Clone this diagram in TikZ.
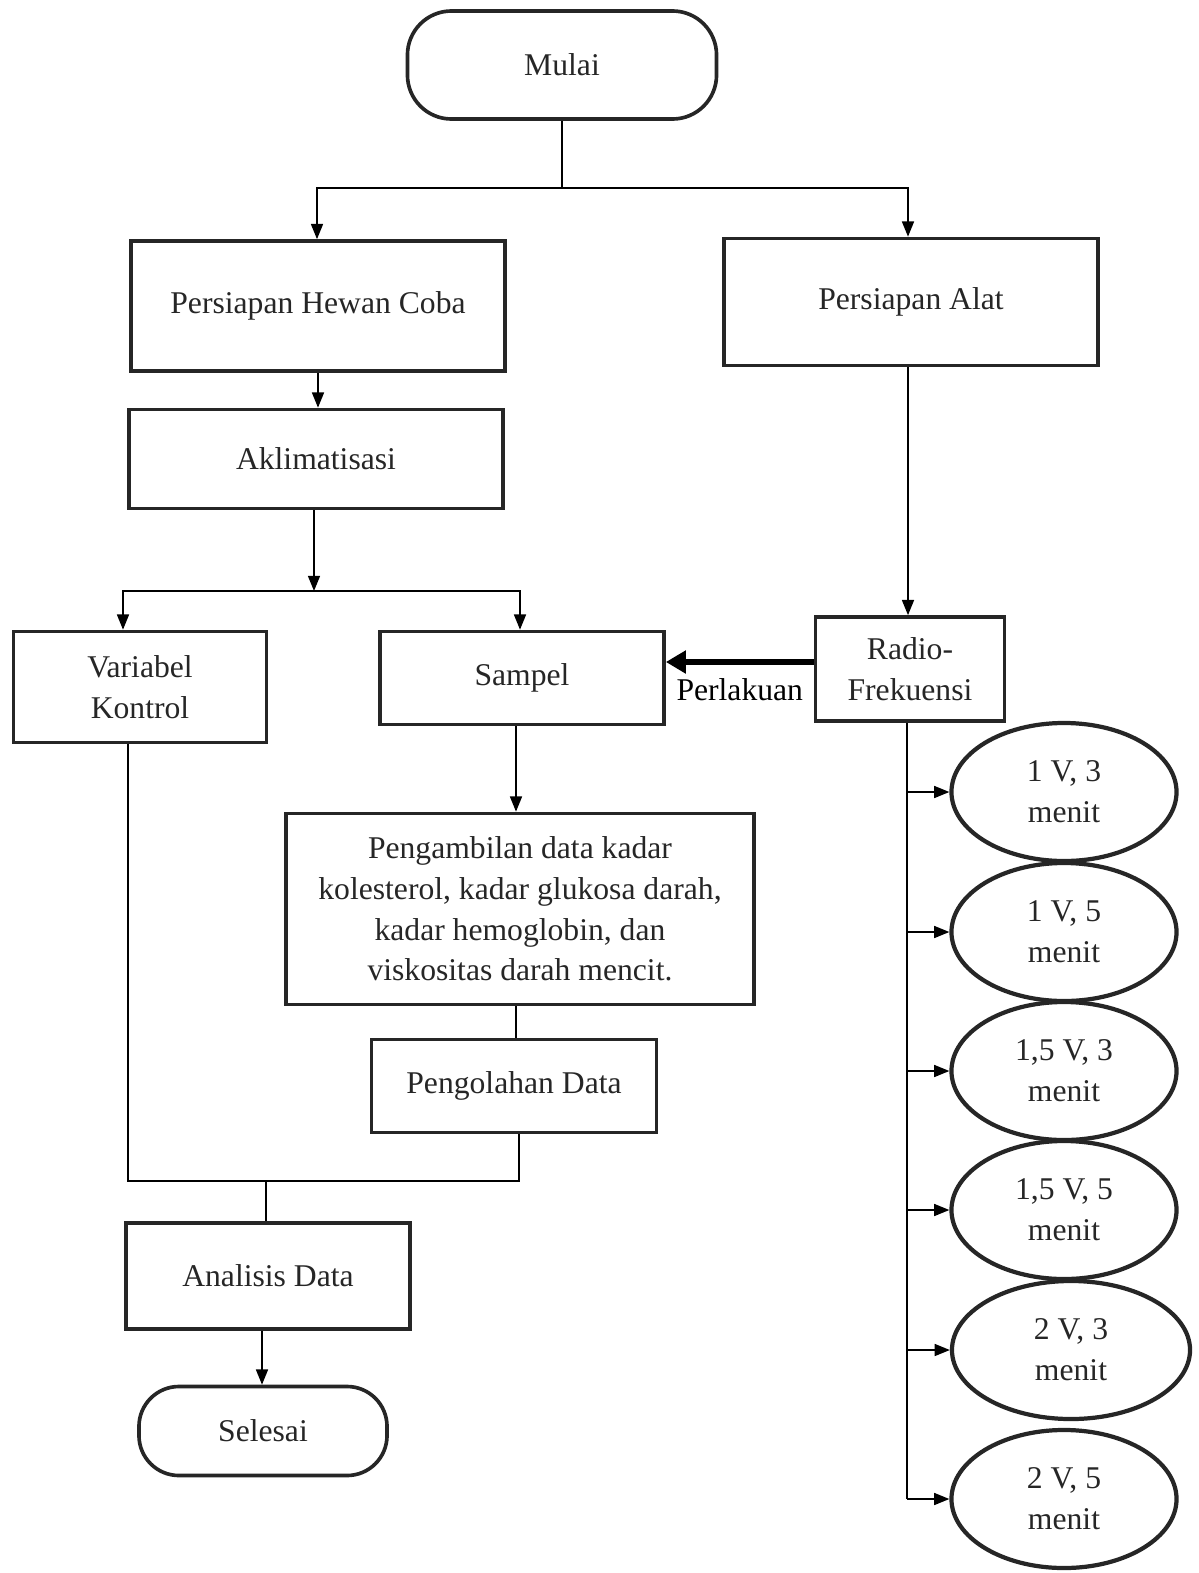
\documentclass[tikz,border=0pt]{standalone}
\usepackage{fontspec}
\setmainfont{Liberation Serif}
\usetikzlibrary{arrows.meta,shapes.geometric}
\definecolor{ink}{HTML}{262626}
\begin{document}
\begin{tikzpicture}[x=0.025cm, y=-0.025cm,
	box/.style={draw=ink, line width=2.6pt, text=ink, align=center, inner sep=0pt,
		font=\fontsize{22.5}{29}\selectfont},
	terminal/.style={box, rounded corners=1.1cm},
	oval/.style={box, ellipse, minimum width=5.625cm, minimum height=3.45cm, line width=3pt},
	arr/.style={-{Triangle[length=0.38cm,width=0.3cm]}, line width=1.1pt},
	link/.style={line width=1.1pt},
	bigarr/.style={-{Triangle[length=0.5cm,width=0.55cm]}, line width=4.5pt}]
	\useasboundingbox (0,0) rectangle (1198,1573);
	\node[terminal, minimum width=7.725cm, minimum height=2.7cm] (mulai) at (562,65) {Mulai};
	\node[box, minimum width=9.35cm, minimum height=3.25cm] (hewan) at (318,306) {Persiapan Hewan Coba};
	\node[box, minimum width=9.35cm, minimum height=3.175cm] (alat) at (911,302) {Persiapan Alat};
	\node[box, minimum width=9.35cm, minimum height=2.475cm] (aklim) at (316,459) {Aklimatisasi};
	\node[box, minimum width=6.325cm, minimum height=2.775cm] (kontrol) at (140,687) {Variabel\\Kontrol};
	\node[box, minimum width=7.1cm, minimum height=2.325cm] (sampel) at (522,678) {Sampel};
	\node[box, minimum width=4.725cm, minimum height=2.6cm] (radio) at (910,669) {Radio-\\Frekuensi};
	\node[box, minimum width=11.7cm, minimum height=4.775cm] (ambil) at (520,909)
		{Pengambilan data kadar\\kolesterol, kadar glukosa darah,\\kadar hemoglobin, dan\\viskositas darah mencit.};
	\node[box, minimum width=7.125cm, minimum height=2.325cm] (olah) at (514,1086) {Pengolahan Data};
	\node[box, minimum width=7.1cm, minimum height=2.65cm] (analisis) at (268,1276) {Analisis Data};
	\node[terminal, rounded corners=1cm, minimum width=6.2cm, minimum height=2.225cm] (selesai) at (263,1431) {Selesai};
	\node[oval] (e1) at (1064,792) {1 V, 3\\menit};
	\node[oval] (e2) at (1064,932) {1 V, 5\\menit};
	\node[oval] (e3) at (1064,1071) {1,5 V, 3\\menit};
	\node[oval] (e4) at (1064,1210) {1,5 V, 5\\menit};
	\node[oval, minimum width=5.95cm] (e5) at (1071,1350) {2 V, 3\\menit};
	\node[oval] (e6) at (1064,1499) {2 V, 5\\menit};
	\coordinate (split1) at (562,188);
	\coordinate (split2) at (314,591);
	\coordinate (join) at (266,1181);
	\draw[link] (mulai.south) -- (split1);
	\draw[arr] (split1) -| ([xshift=-0.025cm]hewan.north);
	\draw[arr] (split1) -| ([xshift=-0.075cm]alat.north);
	\draw[arr] (hewan.south) -- (hewan.south |- aklim.north);
	\draw[arr] (aklim.south -| split2) -- (split2);
	\draw[arr] (split2) -| ([xshift=-0.425cm]kontrol.north);
	\draw[arr] (split2) -| ([xshift=-0.05cm]sampel.north);
	\draw[arr] ([xshift=-0.05cm]radio.north |- alat.south) -- ([xshift=-0.05cm]radio.north);
	\draw[bigarr] ([yshift=0.175cm]radio.west) -- ([yshift=0.175cm]radio.west -| sampel.east)
		node[midway, below=6pt, text=black, font=\fontsize{22.5}{29}\selectfont] (perlakuan) {Perlakuan};
	\draw[arr] ([xshift=-0.15cm]sampel.south) -- ([xshift=-0.15cm]sampel.south |- ambil.north);
	\draw[link] ([xshift=-0.1cm]ambil.south) -- ([xshift=-0.1cm]ambil.south |- olah.north);
	\draw[link] ([xshift=-0.3cm]kontrol.south) |- (join) -| ([xshift=0.125cm]olah.south);
	\draw[link] (join) -- (join |- analisis.north);
	\draw[arr] ([xshift=-0.15cm]analisis.south) -- ([xshift=-0.15cm]analisis.south |- selesai.north);
	\draw[link] ([xshift=-0.075cm]radio.south) -- ([xshift=-0.075cm]radio.south |- e6.west);
	\foreach \i in {1,...,6}
		\draw[arr] ([xshift=-0.075cm]radio.south |- e\i.west) -- (e\i.west);
\end{tikzpicture}
\end{document}
